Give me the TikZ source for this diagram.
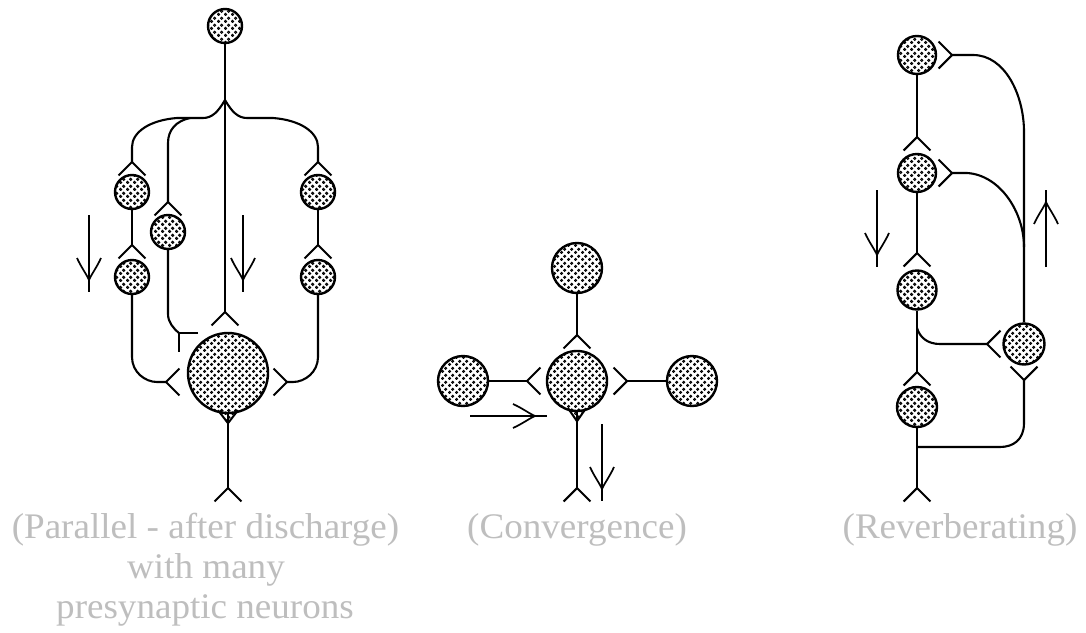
\documentclass[tikz,border=0pt]{standalone}
\usepackage{fontspec}
\setmainfont{Liberation Serif}
\usetikzlibrary{patterns,calc}

% stippled cell body: small rings on a staggered grid
\pgfdeclarepatternformonly{ringdots}{\pgfpointorigin}{\pgfpoint{7pt}{7pt}}{\pgfpoint{7pt}{7pt}}{%
  \pgfsetlinewidth{1pt}%
  \pgfpathcircle{\pgfpoint{1.75pt}{1.75pt}}{1.25pt}%
  \pgfpathcircle{\pgfpoint{5.25pt}{5.25pt}}{1.25pt}%
  \pgfusepath{stroke}%
}

\definecolor{captiongray}{RGB}{190,190,190}

\tikzset{
  neuron/.style={circle, draw=black, line width=2.4pt, pattern=ringdots,
    inner sep=0pt, minimum size=#1},
  wire/.style={line width=2.1pt, line join=round},
  % synaptic fork: apex at the origin, local +x is the direction of travel
  syn/.pic={\draw[wire] (45:19) -- (0,0) -- (-45:19);},
  % direction-of-flow arrow: barbs meet at the origin, pointing along local +x
  flow/.pic={
    \draw[line width=2pt] (-65,0) -- (12,0);
    \draw[line width=1.7pt] (-22,12) .. controls (-13,8) and (-5,2) .. (0,0);
    \draw[line width=1.7pt] (-22,-12) .. controls (-13,-8) and (-5,-2) .. (0,0);
  },
  hillock/.style={line width=2pt, pattern=ringdots},
  captext/.style={text=captiongray, font=\fontsize{36}{40}\selectfont,
    xscale=1.03, anchor=base, inner sep=0pt}
}

\begin{document}
\begin{tikzpicture}[x=1pt, y=1pt]
\useasboundingbox (0,0) rectangle (1086,-632);
\fill[white] (0,0) rectangle (1086,-632);

% ---------------- parallel after-discharge circuit ----------------
\node[neuron=34pt] (p0)  at (225,-26)  {};
\node[neuron=34pt] (pl1) at (132,-192) {};
\node[neuron=34pt] (pl2) at (132,-277) {};
\node[neuron=34pt] (pm)  at (168,-232) {};
\node[neuron=34pt] (pr1) at (318,-192) {};
\node[neuron=34pt] (pr2) at (318,-277) {};
\node[neuron=80pt] (pb)  at (228,-373) {};

\coordinate (pfork) at (225,-100);
\coordinate (sPc)   at (225,-312);
\coordinate (sPl1)  at (132,-162);
\coordinate (sPm)   at (168,-202);
\coordinate (sPr1)  at (318,-162);
\coordinate (sPl2)  at (132,-245);
\coordinate (sPr2)  at (318,-245);
\coordinate (sPmb)  at (179,-333);
\coordinate (sPlb)  at (166,-382);
\coordinate (sPrb)  at (287,-382);
\coordinate (sPout) at (228,-488);

\draw[wire] (p0) -- (pfork) -- (sPc);
\draw[wire] (pfork) .. controls (218,-112) and (212,-118) .. (203,-118)
  -- (177,-118) .. controls (150,-120) and (132,-132) .. (132,-147) -- (sPl1);
\draw[wire] (190,-118) .. controls (176,-121) and (168,-130) .. (168,-143) -- (sPm);
\draw[wire] (pfork) .. controls (232,-112) and (238,-118) .. (247,-118)
  -- (273,-118) .. controls (300,-120) and (318,-132) .. (318,-147) -- (sPr1);
\draw[wire] (pl1) -- (sPl2);
\draw[wire] (pr1) -- (sPr2);
\draw[wire] (pm) -- (168,-314) .. controls (168,-322) and (173,-328) .. (sPmb);
\draw[wire] (pl2) -- (132,-357) .. controls (132,-372) and (145,-382) .. (157,-382) -- (sPlb);
\draw[wire] (pr2) -- (318,-357) .. controls (318,-372) and (305,-382) .. (293,-382) -- (sPrb);
\draw[wire] (pb) -- (sPout);
\draw[hillock] ($(pb.south)+(-10,4)$) -- ($(pb.south)+(0,-9)$) -- ($(pb.south)+(10,4)$);

\pic[rotate=-90] at (sPc)   {syn};
\pic[rotate=-90] at (sPl1)  {syn};
\pic[rotate=-90] at (sPm)   {syn};
\pic[rotate=-90] at (sPr1)  {syn};
\pic[rotate=-90] at (sPl2)  {syn};
\pic[rotate=-90] at (sPr2)  {syn};
\pic[rotate=-45] at (sPmb)  {syn};
\pic[rotate=0]   at (sPlb)  {syn};
\pic[rotate=180] at (sPrb)  {syn};
\pic[rotate=-90] at (sPout) {syn};

\pic[rotate=-90] at (89,-280)  {flow};
\pic[rotate=-90] at (243,-280) {flow};

% ---------------- convergence circuit ----------------
\node[neuron=50pt] (ct) at (577,-268) {};
\node[neuron=60pt] (cc) at (577,-381) {};
\node[neuron=50pt] (cl) at (463,-381) {};
\node[neuron=50pt] (cr) at (692,-381) {};

\coordinate (sCt)   at (577,-335);
\coordinate (sCl)   at (527,-381);
\coordinate (sCr)   at (627,-381);
\coordinate (sCout) at (577,-488);

\draw[wire] (ct) -- (sCt);
\draw[wire] (cl) -- (sCl);
\draw[wire] (cr) -- (sCr);
\draw[wire] (cc) -- (sCout);
\draw[hillock] ($(cc.south)+(-9,4)$) -- ($(cc.south)+(0,-9)$) -- ($(cc.south)+(9,4)$);

\pic[rotate=-90] at (sCt)   {syn};
\pic[rotate=0]   at (sCl)   {syn};
\pic[rotate=180] at (sCr)   {syn};
\pic[rotate=-90] at (sCout) {syn};

\pic[rotate=0]   at (535,-416) {flow};
\pic[rotate=-90] at (602,-489) {flow};

% ---------------- reverberating circuit ----------------
\node[neuron=38pt] (r1) at (917,-55)  {};
\node[neuron=38pt] (r2) at (917,-173) {};
\node[neuron=39pt] (r3) at (917,-290) {};
\node[neuron=40pt] (r4) at (917,-407) {};
\node[neuron=41pt] (rr) at (1024,-344) {};

\coordinate (sR1)   at (952,-55);
\coordinate (sR2)   at (952,-173);
\coordinate (sR12)  at (917,-137);
\coordinate (sR23)  at (917,-253);
\coordinate (sR34)  at (917,-372);
\coordinate (sRr)   at (987,-344);
\coordinate (sRb)   at (1024,-380);
\coordinate (sRout) at (917,-488);

\draw[wire] (r1) -- (sR12);
\draw[wire] (r2) -- (sR23);
\draw[wire] (r3) -- (sR34);
\draw[wire] (r4) -- (sRout);
\draw[wire] (sR1) -- (973,-55) .. controls (1005,-55) and (1024,-95) .. (1024,-132) -- (rr);
\draw[wire] (sR2) -- (967,-173) .. controls (1000,-175) and (1024,-212) .. (1024,-247);
\draw[wire] (917,-328) .. controls (920,-338) and (928,-344) .. (940,-344) -- (sRr);
\draw[wire] (sRb) -- (1024,-423) .. controls (1024,-440) and (1013,-447) .. (1000,-447) -- (917,-447);

\pic[rotate=180] at (sR1)   {syn};
\pic[rotate=180] at (sR2)   {syn};
\pic[rotate=-90] at (sR12)  {syn};
\pic[rotate=-90] at (sR23)  {syn};
\pic[rotate=-90] at (sR34)  {syn};
\pic[rotate=0]   at (sRr)   {syn};
\pic[rotate=90]  at (sRb)   {syn};
\pic[rotate=-90] at (sRout) {syn};

\pic[rotate=-90] at (877,-255)  {flow};
\pic[rotate=90]  at (1046,-202) {flow};

% ---------------- captions ----------------
\node[captext] (capP1) at (205.5,-538) {(Parallel - after discharge)};
\node[captext] (capP2) at (206,-578)   {with many};
\node[captext] (capP3) at (205,-618)   {presynaptic neurons};
\node[captext] (capC)  at (577,-538)   {(Convergence)};
\node[captext] (capR)  at (960,-538)   {(Reverberating)};
\end{tikzpicture}
\end{document}
